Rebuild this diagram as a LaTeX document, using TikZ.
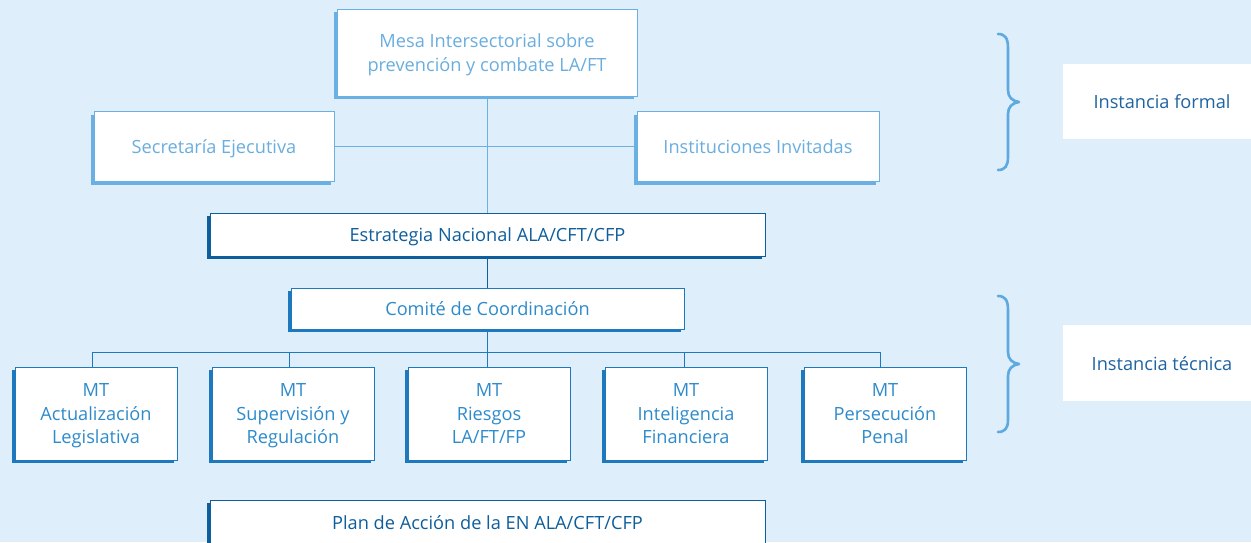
\documentclass[tikz,border=0pt]{standalone}
\usepackage{fontspec}
\setmainfont{Open Sans}
\usetikzlibrary{shadows}
\definecolor{bg}{HTML}{DEEEFA}
\definecolor{lightc}{HTML}{6BB0E2}
\definecolor{lighttext}{HTML}{6AAEDF}
\definecolor{darkc}{HTML}{0F5E9C}
\definecolor{midc}{HTML}{1E78BE}
\definecolor{midtext}{HTML}{2E8BCB}
\definecolor{labeltext}{HTML}{1F64A0}
\definecolor{bracec}{HTML}{5DA9E0}
\tikzset{
  basebox/.style={draw, fill=white, line width=0.8pt, align=center, inner sep=0pt,
    text depth=0pt, font=\fontsize{18.2}{23.5}\selectfont},
  lightbox/.style={basebox, draw=lightc, text=lighttext,
    general shadow={shadow xshift=-3pt, shadow yshift=-3pt, fill=lightc}},
  darkbox/.style={basebox, draw=darkc, text=darkc,
    general shadow={shadow xshift=-3pt, shadow yshift=-3pt, fill=darkc}},
  midbox/.style={basebox, draw=midc, text=midtext,
    general shadow={shadow xshift=-3pt, shadow yshift=-3pt, fill=midc}},
  mtbox/.style={midbox, minimum width=162pt, minimum height=93pt},
  lbox/.style={fill=white, inner sep=0pt},
  ltext/.style={text=labeltext, inner sep=0pt, text depth=0pt, font=\fontsize{18.2}{23.5}\selectfont},
  conn/.style={line width=0.8pt},
  brace/.style={draw=bracec, line width=2.6pt, line cap=round, line join=round}
}
\begin{document}
\begin{tikzpicture}[x=1pt,y=-1pt]
\path[use as bounding box, fill=bg] (0,0) rectangle (1251,542);
\clip (0,0) rectangle (1251,542);

% top level
\node[lightbox, minimum width=300pt, minimum height=87pt] (mesa) at (487,52.5)
  {Mesa Intersectorial sobre\\prevención y combate LA/FT};
\node[lightbox, minimum width=240pt, minimum height=70pt] (sec) at (214,146.5)
  {Secretaría Ejecutiva};
\node[lightbox, minimum width=242pt, minimum height=70pt] (inst) at (758,146.5)
  {Instituciones Invitadas};

\node[darkbox, minimum width=555pt, minimum height=43pt] (est) at (487.5,234.5)
  {Estrategia Nacional ALA/CFT/CFP};
\node[midbox, minimum width=393pt, minimum height=41pt] (com) at (487.5,308.5)
  {Comité de Coordinación};

\node[mtbox] (mt1) at (96,413.5) {MT\\Actualización\\Legislativa};
\node[mtbox] (mt2) at (293,413.5) {MT\\Supervisión y\\Regulación};
\node[mtbox] (mt3) at (489,413.5) {MT\\Riesgos\\LA/FT/FP};
\node[mtbox] (mt4) at (686,413.5) {MT\\Inteligencia\\Financiera};
\node[mtbox] (mt5) at (885,413.5) {MT\\Persecución\\Penal};

\node[darkbox, minimum width=555pt, minimum height=46pt] (plan) at (487.5,523)
  {Plan de Acción de la EN ALA/CFT/CFP};

% connectors
\coordinate (top) at (487,146.5);
\draw[conn, draw=lightc] (sec.east) -- (inst.west);
\draw[conn, draw=lightc] (mesa.south -| top) -- (est.north -| top);
\draw[conn, draw=darkc] (est.south -| top) -- (com.north -| top);
\coordinate (bus) at (487,352);
\coordinate (b1) at (92,352);
\coordinate (b2) at (289,352);
\coordinate (b3) at (487,352);
\coordinate (b4) at (684,352);
\coordinate (b5) at (880,352);
\draw[conn, draw=midc] (com.south -| bus) -- (bus);
\draw[conn, draw=midc] (b1) -- (b5);
\draw[conn, draw=midc] (b1) -- (b1 |- mt1.north);
\draw[conn, draw=midc] (b2) -- (b2 |- mt2.north);
\draw[conn, draw=midc] (b3) -- (b3 |- mt3.north);
\draw[conn, draw=midc] (b4) -- (b4 |- mt4.north);
\draw[conn, draw=midc] (b5) -- (b5 |- mt5.north);

% braces
\draw[brace] (998,34) .. controls (1005,34) and (1008,38) .. (1008,48) -- (1008,90)
  .. controls (1008,97) and (1012,101) .. (1019,102)
  .. controls (1012,103) and (1008,107) .. (1008,114) -- (1008,157)
  .. controls (1008,166) and (1005,170) .. (998,170);
\draw[brace] (998,296) .. controls (1005,296) and (1008,300) .. (1008,310) -- (1008,352)
  .. controls (1008,359) and (1012,363) .. (1019,364)
  .. controls (1012,365) and (1008,369) .. (1008,376) -- (1008,420)
  .. controls (1008,428) and (1005,432) .. (998,432);

% labels
\node[lbox, minimum width=190pt, minimum height=75pt] (formal) at (1158,101.5) {};
\node[ltext] (formaltext) at (1162,102) {Instancia formal};
\node[lbox, minimum width=190pt, minimum height=76pt] (tecnica) at (1158,363) {};
\node[ltext] (tecnicatext) at (1162,364) {Instancia técnica};
\end{tikzpicture}
\end{document}
